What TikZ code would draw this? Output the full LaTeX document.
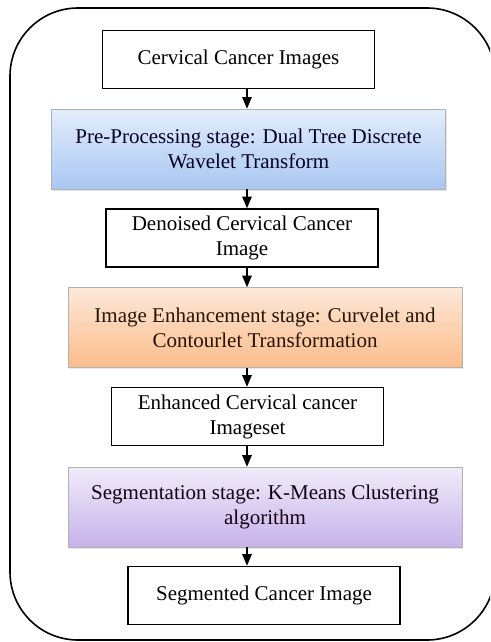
\documentclass[tikz,border=0pt]{standalone}
\usepackage{fontspec}
\setmainfont{Liberation Serif}
\usetikzlibrary{arrows}
\usetikzlibrary{shadows}
\definecolor{blueTop}{HTML}{E4EDFB}
\definecolor{blueBot}{HTML}{A9C7F2}
\definecolor{orangeTop}{HTML}{FDE8D8}
\definecolor{orangeBot}{HTML}{FBBD8C}
\definecolor{purpleTop}{HTML}{F0ECF9}
\definecolor{purpleBot}{HTML}{C6B2EA}
\tikzstyle{plain}=[rectangle,draw=black,line width=1.6pt,fill=white,inner sep=0mm,minimum width=272pt,minimum height=58pt,align=center]
\tikzstyle{stage}=[rectangle,draw=black!30,line width=0.6pt,inner sep=0mm,minimum width=394pt,minimum height=80pt,align=center,drop shadow={opacity=0.2,shadow xshift=1pt,shadow yshift=-1.5pt}]
\tikzstyle{arrow}=[-triangle 45,line width=1.7pt]
\tikzset{every node/.style={font=\fontsize{21}{25}\selectfont}}

\begin{document}
\begin{tikzpicture}[x=1pt,y=-1pt]
        \clip (0,0) rectangle (490,642);
        \draw[line width=1.6pt,rounded corners=68pt] (10,8) rectangle (495,640);
        \node[plain] at (238.5,59.5) (imgs) {Cervical Cancer Images};
        \node[stage,top color=blueTop,bottom color=blueBot,text=black!85!blue] at (248.5,149) (pre) {Pre-Processing stage: Dual Tree Discrete\\Wavelet Transform};
        \node[plain] at (242,238) (denoised) {Denoised Cervical Cancer\\Image};
        \node[stage,top color=orangeTop,bottom color=orangeBot,text=black!85!orange] at (265,327.5) (enh) {Image Enhancement stage: Curvelet and\\Contourlet Transformation};
        \node[plain] at (247.5,416.5) (enhanced) {Enhanced Cervical cancer\\Imageset};
        \node[stage,top color=purpleTop,bottom color=purpleBot,text=black!85!violet] at (265,507) (seg) {Segmentation stage: K-Means Clustering\\algorithm};
        \node[plain] at (264,595.5) (segmented) {Segmented Cancer Image};
        \coordinate (ax) at (247,0);
        \draw[arrow] (imgs.south -| ax) -- (pre.north -| ax);
        \draw[arrow] (pre.south -| ax) -- (denoised.north -| ax);
        \draw[arrow] (denoised.south -| ax) -- (enh.north -| ax);
        \draw[arrow] (enh.south -| ax) -- (enhanced.north -| ax);
        \draw[arrow] (enhanced.south -| ax) -- (seg.north -| ax);
        \draw[arrow] (seg.south -| ax) -- (segmented.north -| ax);
      \end{tikzpicture}
\end{document}
